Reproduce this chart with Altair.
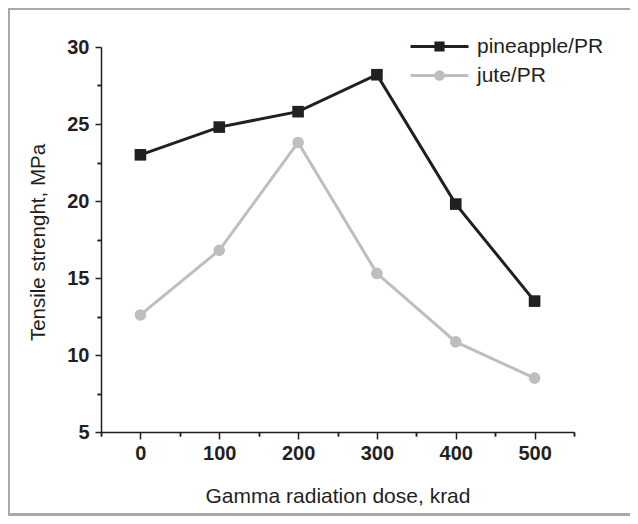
import altair as alt
import pandas as pd

doses = [0, 100, 200, 300, 400, 500]
pineapple = [23.0, 24.8, 25.8, 28.2, 19.8, 13.5]
jute = [12.6, 16.8, 23.8, 15.3, 10.85, 8.5]
series_names = ["pineapple/PR", "jute/PR"]
series_colors = ["#231f20", "#bcbec0"]
series_marks = ["square", "circle"]
x_major = [0, 100, 200, 300, 400, 500]
x_minor = [-50, 50, 150, 250, 350, 450, 550]
y_major = [5, 10, 15, 20, 25, 30]
y_minor = [7.5, 12.5, 17.5, 22.5, 27.5]

rows = []
for name, vals in zip(series_names, [pineapple, jute]):
    for d, v in zip(doses, vals):
        rows.append({"dose": d, "ts": v, "series": name})
df = pd.DataFrame(rows)

FONT = "Liberation Sans"
INK = "#231f20"
FRAME = "#a7a9ac"

# legend glyphs: a line segment with the series marker on it
legend_paths = [
    "M-2.9,0H2.9M-0.36,-0.36H0.36V0.36H-0.36Z",
    "M-2.9,0H2.9M-0.38,0A0.38,0.38,0,1,1,0.38,0A0.38,0.38,0,1,1,-0.38,0Z",
]

xscale = alt.Scale(domain=[-50, 550], nice=False, zero=False)
yscale = alt.Scale(domain=[5, 30], nice=False, zero=False)
cscale = alt.Scale(domain=series_names, range=series_colors)

legend = alt.Legend(
    title=None, orient="none", legendX=327, legendY=-12, padding=0,
    symbolSize=400, symbolStrokeWidth=3, symbolOpacity=1, labelFont=FONT, labelFontSize=21,
    labelColor=INK, labelOffset=26, rowPadding=7, labelBaseline="middle",
)

base = alt.Chart(df)

lines = base.mark_line(strokeWidth=3).encode(
    x=alt.X("dose:Q", scale=xscale, axis=alt.Axis(
        values=x_major, tickSize=7, labelPadding=4, grid=False,
        labelFont=FONT, labelFontSize=20, labelFontWeight="bold",
        title="Gamma radiation dose, krad", titleFont=FONT, titleFontSize=21,
        titleFontWeight="normal", titleY=70, titleBaseline="alphabetic")),
    y=alt.Y("ts:Q", scale=yscale, axis=alt.Axis(
        values=y_major, tickSize=6, labelPadding=6, grid=False,
        labelFont=FONT, labelFontSize=20, labelFontWeight="bold",
        title="Tensile strenght, MPa", titleFont=FONT, titleFontSize=20.5,
        titleFontWeight="normal", titleX=-57, titleY=195, titleBaseline="alphabetic",
        titleAngle=270)),
    stroke=alt.Stroke("series:N", scale=cscale, legend=legend),
    detail="series:N",
)

marker_layers = []
for name, col, mk in zip(series_names, series_colors, series_marks):
    marker_layers.append(
        base.transform_filter(alt.datum.series == name).mark_point(
            shape=mk, filled=True, opacity=1, color=col, size=135
        ).encode(
            x=alt.X("dose:Q", scale=xscale, axis=alt.Axis(
                values=x_minor, tickSize=4, labels=False, domain=False, grid=False,
                title=None, orient="bottom")),
            y=alt.Y("ts:Q", scale=yscale, axis=alt.Axis(
                values=y_minor, tickSize=4, labels=False, domain=False, grid=False,
                title=None, orient="left")),
        )
    )

legend_layer = base.transform_filter("false").mark_point(
    filled=True, opacity=1, size=400, strokeWidth=3
).encode(
    x=alt.X("dose:Q", scale=xscale, axis=None),
    y=alt.Y("ts:Q", scale=yscale, axis=None),
    stroke=alt.Stroke("series:N", scale=cscale, legend=legend),
    fill=alt.Fill("series:N", scale=cscale, legend=legend),
    shape=alt.Shape("series:N", scale=alt.Scale(domain=series_names, range=legend_paths), legend=legend),
)

frame = alt.Chart(alt.Data(values=[{"k": 1}])).mark_rect(
    filled=False, stroke=FRAME, strokeWidth=6, clip=False
).encode(
    x=alt.value(-94), x2=alt.value(700), y=alt.value(-40), y2=alt.value(469)
)

chart = alt.layer(frame, lines, marker_layers[0], marker_layers[1], legend_layer).resolve_axis(
    x="independent", y="independent"
).properties(
    width=473, height=385,
    padding={"left": 93, "top": 39, "right": 56, "bottom": 84},
    autosize=alt.AutoSizeParams(type="none"),
    background="white",
).configure_view(stroke=None).configure_axis(
    domainColor=INK, tickColor=INK, domainWidth=1.5, tickWidth=1.5,
    labelColor=INK, titleColor=INK,
)

chart.save("out.html", embed_options={"renderer": "svg", "actions": False})
